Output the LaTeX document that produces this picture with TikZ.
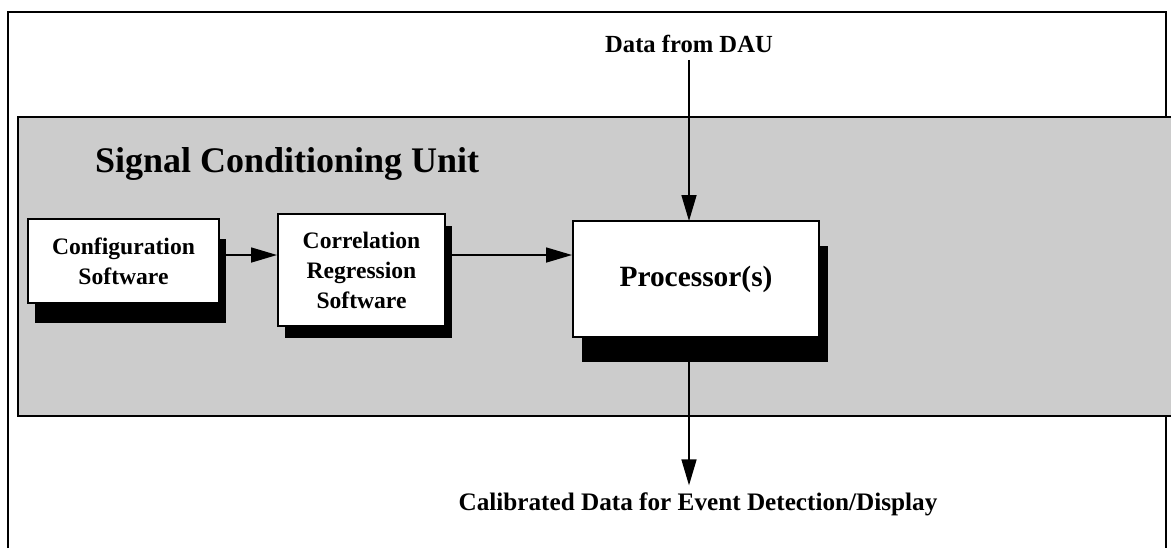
\documentclass[tikz,border=0pt]{standalone}
\usepackage{fontspec}
\setmainfont{Liberation Serif}
\usetikzlibrary{arrows.meta,shadows}
\definecolor{bandgray}{RGB}{204,204,204}

\tikzset{
    swbox/.style={draw, line width=1pt, fill=white, align=center, inner sep=0pt,
                  font=\bfseries\fontsize{11.8}{15}\selectfont},
    flow/.style={line width=0.8pt, -{Triangle[length=13pt,width=7.5pt]}},
}

\begin{document}
\begin{tikzpicture}[x=0.5pt, y=-0.5pt]
    \useasboundingbox (0,0) rectangle (1171,548);

    % frame and unit band
    \draw [line width=1pt] (8,548) -- (8,12) -- (1166,12) -- (1166,548);
    \draw [line width=1.2pt, fill=bandgray] (1180,117) -- (18,117) -- (18,416) -- (1180,416);
    \node [anchor=base west, font=\bfseries\fontsize{18}{20}\selectfont] (unit) at (88,172)
        {Signal Conditioning Unit};

    \node [swbox, minimum width=95.5pt, minimum height=42pt,
           drop shadow={shadow xshift=3.5pt, shadow yshift=-10pt, fill=black, opacity=1}]
        (config) at (123.5,261) {Configuration\\Software};
    \node [swbox, minimum width=83.5pt, minimum height=56pt,
           drop shadow={shadow xshift=3.5pt, shadow yshift=-6pt, fill=black, opacity=1}]
        (corr) at (361.5,270) {Correlation\\Regression\\Software};
    \node [swbox, minimum width=123pt, minimum height=58pt,
           font=\bfseries\fontsize{14.7}{17}\selectfont,
           drop shadow={shadow xshift=4.5pt, shadow yshift=-12.5pt, fill=black, opacity=1}]
        (proc) at (696,279) {Processor(s)};

    \node [font=\bfseries\fontsize{12.3}{14}\selectfont] (dau) at (689,44) {Data from DAU};
    \node [font=\bfseries\fontsize{12.6}{14}\selectfont] (calib) at (698,504)
        {Calibrated Data for Event Detection/Display};

    \coordinate (in) at (689,221);
    \coordinate (out) at (689,337);

    \draw [flow] (config.east |- 0,255) -- (corr.west |- 0,255);
    \draw [flow] (corr.east |- 0,255) -- (proc.west |- 0,255);
    \draw [flow] (dau.south -| in) -- (in);
    \draw [flow] (out) -- (calib.north -| out);
\end{tikzpicture}
\end{document}
